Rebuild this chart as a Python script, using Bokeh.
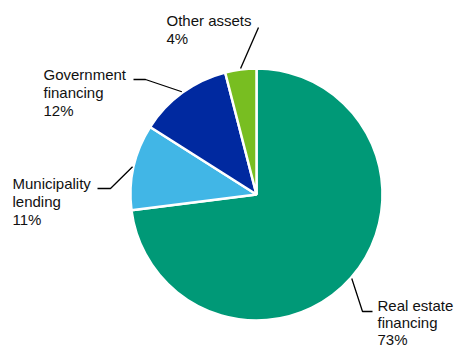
import math
from bokeh.plotting import figure
from bokeh.models import Range1d, ColumnDataSource
from bokeh.core.properties import value
from bokeh.embed import file_html
from bokeh.resources import INLINE

# Data
categories = ["Real estate financing", "Municipality lending", "Government financing", "Other assets"]
shares = [73, 11, 12, 4]
colors = ["#009977", "#41B6E6", "#0029A0", "#78BE21"]
label_lines = [["Real estate", "financing", "73%"],
               ["Municipality", "lending", "11%"],
               ["Government", "financing", "12%"],
               ["Other assets", "4%"]]

W, H = 457, 348
cx, cy, r = 256, H - 194, 126

p = figure(width=W, height=H, x_range=Range1d(0, W), y_range=Range1d(0, H),
           output_backend="svg", toolbar_location=None, min_border=0)
p.axis.visible = False
p.grid.visible = False
p.outline_line_color = None
p.background_fill_color = "white"
p.border_fill_color = "white"

total = sum(shares)
starts, ends, mids = [], [], []
cum = 0.0
for s in shares:
    a0 = cum / total * 2 * math.pi
    cum += s
    a1 = cum / total * 2 * math.pi
    starts.append(math.pi / 2 - a0)
    ends.append(math.pi / 2 - a1)
    mids.append((a0 + a1) / 2)

src = ColumnDataSource(dict(x=[cx] * len(shares), y=[cy] * len(shares),
                            start=starts, end=ends, color=colors))
p.wedge(x="x", y="y", radius=r, start_angle="start", end_angle="end",
        direction="clock", fill_color="color", line_color="white", line_width=2.5,
        source=src)

# Leader lines: (elbow, end) in pixels (annotation layout)
leaders = [((362, 311), (372, 311)),
           ((110, 188), (97, 188)),
           ((145, 79), (133, 79)),
           ((258, 27), (258, 27))]
xs, ys = [], []
for m, (elb, end) in zip(mids, leaders):
    sx = cx + (r + 1) * math.sin(m)
    sy = cy + (r + 1) * math.cos(m)
    xs.append([sx, elb[0], end[0]])
    ys.append([sy, H - elb[1], H - end[1]])
p.multi_line(xs=xs, ys=ys, line_color="black", line_width=1.3)

# Labels: (x, first line middle, line spacing)
label_pos = [(377, 305, 17), (12, 183, 18), (43, 74, 18), (166, 20, 17.5)]
tx, ty, tt = [], [], []
for lines, (x0, y0, dy) in zip(label_lines, label_pos):
    for i, t in enumerate(lines):
        tx.append(x0)
        ty.append(H - (y0 + dy * i))
        tt.append(t)
p.text(x=tx, y=ty, text=tt, text_font=value("Liberation Sans"), text_font_size="15px",
       text_color="#111111", text_baseline="middle", text_align="left")

open("out.html", "w").write(file_html(p, INLINE))
